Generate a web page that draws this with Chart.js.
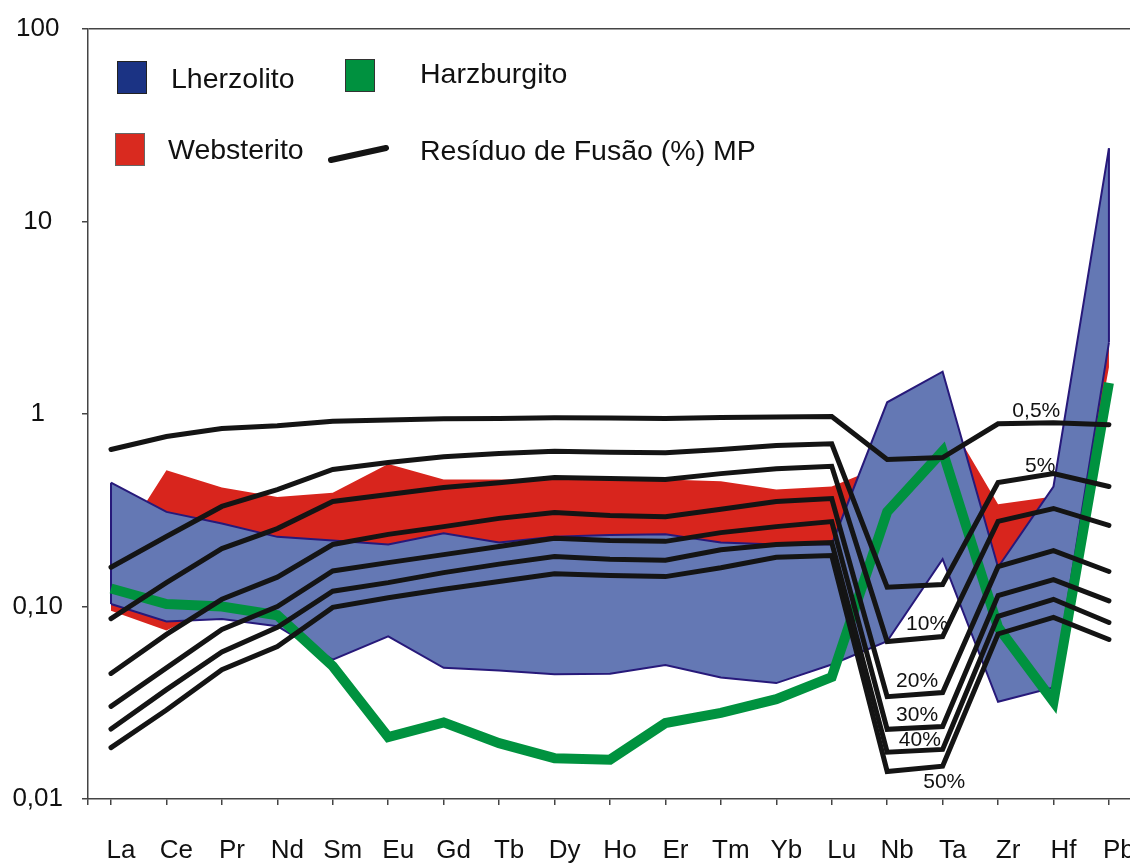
<!DOCTYPE html>
<html><head><meta charset="utf-8">
<script src="https://cdn.jsdelivr.net/npm/chart.js@4.4.1/dist/chart.umd.min.js"></script>
<style>html,body{margin:0;padding:0;background:#fff}#wrap{width:1130px;height:864px;position:relative}</style>
</head><body><div id="wrap"><canvas id="c" width="1130" height="864"></canvas></div>
<script>
const categories = ['La','Ce','Pr','Nd','Sm','Eu','Gd','Tb','Dy','Ho','Er','Tm','Yb','Lu','Nb','Ta','Zr','Hf','Pb'];
const yTickValues = [0.01, 0.1, 1, 10, 100];
const yTickLabels = ['0,01', '0,10', '1', '10', '100'];

const lherzUpper = [0.44,0.31,0.27,0.23,0.22,0.21,0.24,0.215,0.23,0.235,0.237,0.215,0.21,0.21,1.15,1.66,0.16,0.42,24];
const lherzLower = [0.103,0.0835,0.086,0.079,0.053,0.07,0.048,0.0465,0.0445,0.0447,0.0497,0.0428,0.04,0.05,0.066,0.176,0.032,0.038,2.35];
const webUpper = [0.18,0.51,0.415,0.37,0.39,0.55,0.457,0.457,0.457,0.457,0.457,0.448,0.405,0.42,0.55,1.05,0.34,0.373,6.9];
const webLower = [0.095,0.075,0.105,0.1,0.1,0.1,0.1,0.1,0.1,0.1,0.1,0.1,0.1,0.1,0.2,0.3,0.1,0.045,1.75];
const harzburgito = [0.124,0.103,0.1,0.09,0.049,0.021,0.025,0.0195,0.0163,0.016,0.0248,0.028,0.033,0.043,0.31,0.64,0.078,0.032,1.45];

const melt05 = [0.654,0.764,0.84,0.87,0.917,0.93,0.944,0.947,0.955,0.953,0.947,0.96,0.965,0.97,0.58,0.594,0.89,0.90,0.88];
const melt5  = [0.16,0.231,0.331,0.405,0.515,0.56,0.60,0.624,0.64,0.633,0.63,0.654,0.686,0.70,0.126,0.13,0.44,0.49,0.42];
const melt10 = [0.0866,0.133,0.20,0.254,0.351,0.382,0.415,0.44,0.468,0.462,0.457,0.49,0.52,0.535,0.0658,0.0698,0.277,0.323,0.264];
const melt20 = [0.0449,0.0716,0.109,0.142,0.21,0.237,0.26,0.287,0.308,0.297,0.293,0.32,0.351,0.364,0.034,0.0357,0.161,0.195,0.152];
const melt30 = [0.0303,0.048,0.076,0.10,0.153,0.169,0.186,0.205,0.226,0.22,0.218,0.242,0.26,0.276,0.023,0.0238,0.114,0.138,0.107];
const melt40 = [0.0231,0.037,0.058,0.078,0.12,0.133,0.15,0.166,0.182,0.176,0.174,0.197,0.21,0.215,0.0175,0.0181,0.089,0.109,0.0826];
const melt50 = [0.0185,0.029,0.047,0.062,0.099,0.111,0.123,0.135,0.148,0.145,0.143,0.159,0.18,0.184,0.0139,0.0148,0.072,0.0877,0.0674];

const meltLabels = ['0,5%','5%','10%','20%','30%','40%','50%'];
const meltLabelX = [16.69,16.76,14.72,14.54,14.54,14.59,15.03];
const meltLabelY = [1.03,0.534,0.0806,0.0408,0.0274,0.0203,0.01225];

const legendNames = ['Lherzolito','Harzburgito','Websterito','Resíduo de Fusão (%) MP'];

const X_MIN = -0.415, X_MAX = 18.38;
const FONT = '"Liberation Sans", Arial, Helvetica, sans-serif';
const BLUE = '#6478b4', NAVY = '#27197a', RED = '#d8251d', GREEN = '#00923f', BLACK = '#141414';

function pts(arr){ return arr.map((v,i)=>({x:i, y:v})); }
function edge(i, a, b){ return [{x:i, y:a[i]}, {x:i, y:b[i]}]; }

const datasets = [];
// Websterito band (bottom-most)
datasets.push({data: pts(webUpper), borderWidth:0, borderColor:RED, backgroundColor:RED, fill:'+1', order:6});
datasets.push({data: pts(webLower), borderWidth:0, borderColor:RED, fill:false, order:6});
// Lherzolito band
datasets.push({data: pts(lherzUpper), borderWidth:2, borderColor:NAVY, backgroundColor:BLUE, fill:'+1', order:5});
datasets.push({data: pts(lherzLower), borderWidth:2, borderColor:NAVY, fill:false, order:4.5});
datasets.push({data: edge(0, lherzUpper, lherzLower), borderWidth:2, borderColor:NAVY, fill:false, order:4.5});
datasets.push({data: edge(categories.length-1, lherzUpper, lherzLower), borderWidth:2, borderColor:NAVY, fill:false, order:4.5});
// Harzburgito
datasets.push({data: pts(harzburgito), borderWidth:10, borderColor:GREEN, fill:false, order:3});
// melting residue lines
[melt05, melt5, melt10, melt20, melt30, melt40, melt50].forEach(a => {
  datasets.push({data: pts(a), borderWidth:5, borderColor:BLACK, fill:false, order:2, borderCapStyle:'round'});
});

const annot = {
  id:'annot',
  afterDatasetsDraw(chart){
    const ctx = chart.ctx, xs = chart.scales.x, ys = chart.scales.y;
    ctx.save();
    ctx.fillStyle = '#111';
    ctx.font = '21px ' + FONT;
    ctx.textAlign = 'center';
    ctx.textBaseline = 'middle';
    meltLabels.forEach((t,i) => {
      ctx.fillText(t, xs.getPixelForValue(meltLabelX[i]), ys.getPixelForValue(meltLabelY[i]));
    });
    ctx.restore();
  },
  afterDraw(chart){
    const ctx = chart.ctx;
    ctx.save();
    const sq = (x,y,w,h,fill,stroke) => { ctx.fillStyle = fill; ctx.fillRect(x,y,w,h); ctx.strokeStyle = stroke; ctx.lineWidth = 1; ctx.strokeRect(x+0.5,y+0.5,w-1,h-1); };
    sq(117,61,30,33,'#1b3384','#222');
    sq(345,59,30,33,'#00913f','#333');
    sq(115,133,30,33,'#d92a1f','#666');
    ctx.strokeStyle = BLACK; ctx.lineWidth = 6; ctx.lineCap = 'round';
    ctx.beginPath(); ctx.moveTo(331,160); ctx.lineTo(386,148); ctx.stroke();
    ctx.fillStyle = '#111';
    ctx.font = '28.5px ' + FONT;
    ctx.textAlign = 'left';
    ctx.textBaseline = 'alphabetic';
    ctx.fillText(legendNames[0], 171, 88);
    ctx.fillText(legendNames[1], 420, 83);
    ctx.fillText(legendNames[2], 168, 159);
    ctx.fillText(legendNames[3], 420, 160);
    ctx.restore();
  }
};

new Chart(document.getElementById('c'), {
  type:'line',
  data:{datasets},
  plugins:[annot],
  options:{
    responsive:false, animation:false, devicePixelRatio:1,
    layout:{padding:{top:29,left:0,right:0,bottom:0}},
    elements:{point:{radius:0}, line:{tension:0}},
    plugins:{legend:{display:false}, tooltip:{enabled:false}},
    scales:{
      x:{
        type:'linear', min:X_MIN, max:X_MAX,
        afterBuildTicks: s => { s.ticks = [{value:X_MIN}].concat(categories.map((c,i)=>({value:i}))); },
        afterFit: s => { s.height = 65; s.paddingLeft = 0; s.paddingRight = 0; },
        ticks:{autoSkip:false, maxRotation:0, labelOffset:10, padding:30, color:'#111',
               font:{family:FONT, size:26},
               callback:(v)=> Number.isInteger(v) ? categories[v] : ''},
        grid:{drawOnChartArea:false, tickLength:6, color:'#444', lineWidth:1.5},
        border:{display:true, color:'#444', width:1.5}
      },
      y:{
        type:'logarithmic', min:0.01, max:100,
        afterBuildTicks: s => { s.ticks = yTickValues.map(v=>({value:v})); },
        afterFit: s => { s.width = 88; s.paddingTop = 0; s.paddingBottom = 0; },
        ticks:{autoSkip:false, crossAlign:'center', padding:19, color:'#111',
               font:{family:FONT, size:26},
               callback:(v)=>{ const i = yTickValues.indexOf(v); return i>=0 ? yTickLabels[i] : ''; }},
        grid:{color: c => (c.tick && c.tick.value === 100) ? '#444' : 'rgba(0,0,0,0)', tickColor:'#444', tickLength:6, lineWidth:1.5},
        border:{display:true, color:'#444', width:1.5}
      }
    }
  }
});
</script></body></html>
